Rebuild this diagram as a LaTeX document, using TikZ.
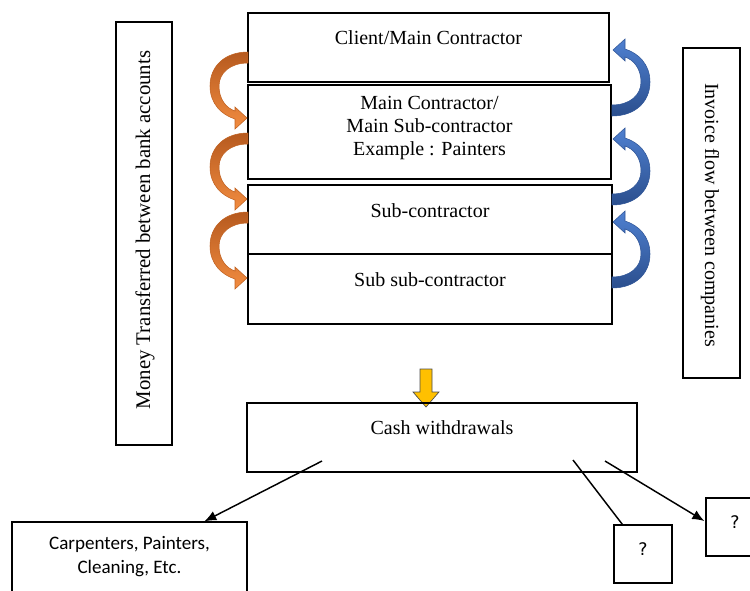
\documentclass[tikz,border=0pt]{standalone}
\usepackage{fontspec}
\setmainfont{Liberation Serif}
\newfontfamily\carl{Carlito}
\newfontfamily\djv{DejaVu Sans}
\usetikzlibrary{arrows.meta,calc}
\definecolor{orD}{HTML}{B65A1F}
\definecolor{orL}{HTML}{F28C40}
\definecolor{orE}{HTML}{C0601F}
\definecolor{blD}{HTML}{2B4F8E}
\definecolor{blL}{HTML}{4F80D0}
\definecolor{blE}{HTML}{2F5597}
\definecolor{gold}{HTML}{FFC000}
\begin{document}
\begin{tikzpicture}[x=0.75pt,y=-0.75pt,
  box/.style={draw, line width=1pt, inner sep=0pt},
  thinbox/.style={draw, line width=0.8pt, inner sep=0pt},
  lbl/.style={font=\fontsize{15}{17.6}\selectfont, align=center, inner sep=0pt, text height=10.5pt, text depth=3pt},
  conn/.style={line width=1.1pt},
  tip/.style={-{Latex[length=9pt,width=7.5pt]}},
  curvarr/.pic={
    \path[pic actions] (0,0) .. controls (-23,0) and (-38,14) .. (-38,34)
      .. controls (-38,52) and (-26,63) .. (-13,67)
      -- (-13,77) -- (-1,66) -- (-13,55) -- (-13,59)
      .. controls (-22,56) and (-29,47) .. (-29,34)
      .. controls (-29,21) and (-18,11) .. (0,11) -- cycle;
  },
  orarr/.style={top color=orD, bottom color=orL, draw=orE, line width=0.4pt},
  blarr/.style={rotate=180, top color=blL, bottom color=blD, draw=blE, line width=0.4pt}
]
\useasboundingbox (0,0) rectangle (750,590);

% main stack
\node[box, minimum width=361*0.75pt, minimum height=69*0.75pt] (c1) at (428.5,47.5) {};
\node[box, minimum width=363*0.75pt, minimum height=94*0.75pt] (c2) at (429.5,132) {};
\node[box, minimum width=364*0.75pt, minimum height=69*0.75pt] (c3) at (430,219.5) {};
\node[box, minimum width=364*0.75pt, minimum height=70*0.75pt] (c4) at (430,289) {};

\node[lbl] (c1t) at (428.5,39) {Client/Main Contractor};
\node[lbl, text height=, text depth=] (c2t) at (429.5,128) {Main Contractor/\\Main Sub-contractor\\Example : Painters};
\node[lbl] (c3t) at (430,212) {Sub-contractor};
\node[lbl] (c4t) at (430,281) {Sub sub-contractor};

% side boxes
\node[thinbox, minimum width=56*0.75pt, minimum height=423*0.75pt] (lb) at (144,233.5) {};
\node[lbl, font=\fontsize{15.6}{17.6}\selectfont, rotate=90] (lbt) at (145,230) {Money Transferred between bank accounts};
\node[thinbox, minimum width=57*0.75pt, minimum height=330*0.75pt] (rb) at (711.5,213) {};
\node[lbl, rotate=-90] (rbt) at (710,215) {Invoice flow between companies};

% curved arrows
\pic[orarr] at (248,52) {curvarr};
\pic[orarr] at (248,133) {curvarr};
\pic[orarr] at (248,212) {curvarr};
\pic[blarr] at (612,116) {curvarr};
\pic[blarr] at (612,205) {curvarr};
\pic[blarr] at (612,288) {curvarr};

% yellow block arrow
\draw[fill=gold, draw=black!70, line width=0.5pt]
  (420,369) -- (432,369) -- (432,392) -- (439,392) -- (426,407) -- (413,392) -- (420,392) -- cycle;

% cash box
\node[box, minimum width=390*0.75pt, minimum height=69*0.75pt] (cash) at (442,437.5) {};
\node[lbl] (casht) at (442,429) {Cash withdrawals};

% bottom boxes
\node[box, minimum width=235*0.75pt, minimum height=80*0.75pt] (carp) at (129.5,562) {};
\node[font=\carl\fontsize{14.3}{18}\selectfont, align=center, inner sep=0pt] (carpt) at (129.5,557) {Carpenters, Painters,\\Cleaning, Etc.};
\node[box, minimum width=58*0.75pt, minimum height=58*0.75pt] (q1) at (643,554) {};
\node[font=\djv\fontsize{13}{15}\selectfont] (q1t) at (643,549) {?};
\node[box, minimum width=58*0.75pt, minimum height=58*0.75pt] (q2) at (735,527) {};
\node[font=\djv\fontsize{13}{15}\selectfont] (q2t) at (735,522) {?};

% connectors
\coordinate (s1) at (322,461);
\coordinate (s2) at (573,460);
\coordinate (s3) at (605,461);
\coordinate (e1) at ($(carp.north west)+(193,0)$);
\coordinate (e2) at ($(q1.north west)+(9,0)$);
\coordinate (e3) at ($(q2.west)+(-1,-6)$);
\draw[conn, tip] (s1) -- (e1);
\draw[conn] (s2) -- (e2);
\draw[conn, tip] (s3) -- (e3);
\end{tikzpicture}
\end{document}
